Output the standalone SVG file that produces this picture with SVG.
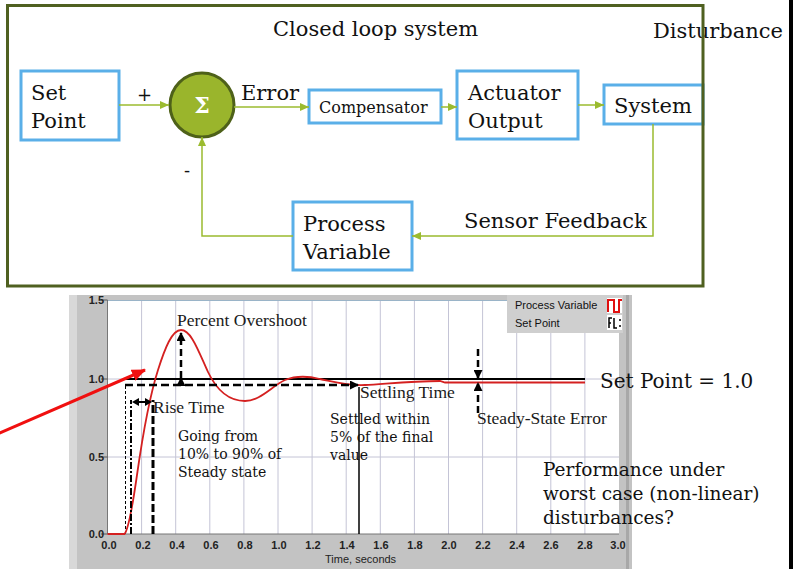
<svg xmlns="http://www.w3.org/2000/svg" width="796" height="569" viewBox="0 0 796 569">
<style>
.box{fill:#fff;stroke:#5aafe8;stroke-width:3}
.lbl{font-family:"DejaVu Serif",serif;font-size:21px;fill:#111}
.con{fill:none;stroke:#9bbb2f;stroke-width:1.5}
.ser{font-family:"Liberation Serif",serif;font-size:17.5px;fill:#1a1a1a}
.geo{font-family:"DejaVu Serif",serif;font-size:14px;fill:#111}
.tick{font-family:"Liberation Sans",sans-serif;font-size:11px;font-weight:bold;fill:#222;text-anchor:middle}
.ytick{font-family:"Liberation Sans",sans-serif;font-size:11px;font-weight:bold;fill:#222;text-anchor:end}
.grid{stroke:#c4c4d6;stroke-width:1}
.dash{fill:none;stroke:#000;stroke-width:2.5;stroke-dasharray:8,4}
.big{font-family:"DejaVu Serif",serif;font-size:18.5px;fill:#111}
</style>
<defs>
<marker id="ga" markerUnits="userSpaceOnUse" markerWidth="9" markerHeight="8" refX="9" refY="4" orient="auto"><path d="M0,0 L9,4 L0,8 z" fill="#9bbb2f"/></marker>
<marker id="ba" markerUnits="userSpaceOnUse" markerWidth="9" markerHeight="9" refX="8" refY="4.5" orient="auto"><path d="M0,0 L9,4.5 L0,9 z" fill="#000"/></marker>
<marker id="ra" markerUnits="userSpaceOnUse" markerWidth="14" markerHeight="12" refX="13" refY="6" orient="auto"><path d="M0,0 L14,6 L0,12 z" fill="#f01010"/></marker>
</defs>

<g id="loop-title"><text class="lbl" x="273" y="36">Closed loop system</text></g>
<g id="disturbance"><text class="lbl" x="653" y="38">Disturbance</text></g>

<g id="set-point"><rect class="box" x="21" y="71" width="98" height="69"/><text class="lbl" x="31" y="100">Set</text><text class="lbl" x="31" y="128">Point</text></g>
<g id="sum"><circle cx="202" cy="105" r="32" fill="#9ab52c" stroke="#4e6119" stroke-width="3"/><text x="202" y="113" text-anchor="middle" font-family="DejaVu Serif,serif" font-weight="bold" font-size="22" fill="#fff">Σ</text></g>
<g id="compensator"><rect class="box" x="309" y="90" width="132" height="33"/><text x="319" y="113" font-family="DejaVu Serif,serif" font-size="16" fill="#111">Compensator</text></g>
<g id="actuator"><rect class="box" x="457" y="71" width="121" height="68"/><text class="lbl" x="468" y="100">Actuator</text><text class="lbl" x="468" y="128">Output</text></g>
<g id="system"><rect class="box" x="604" y="85" width="99" height="39"/><text class="lbl" x="614" y="113">System</text></g>
<g id="process-variable"><rect class="box" x="293" y="202" width="119" height="68"/><text class="lbl" x="303" y="231">Process</text><text class="lbl" x="303" y="259">Variable</text></g>

<g id="connectors">
<path class="con" d="M119,105 H169" marker-end="url(#ga)"/>
<path class="con" d="M234,107 H309" marker-end="url(#ga)"/>
<path class="con" d="M441,107 H457" marker-end="url(#ga)"/>
<path class="con" d="M578,105 H604" marker-end="url(#ga)"/>
<path class="con" d="M653,124 V236 H412" marker-end="url(#ga)"/>
<path class="con" d="M293,236 H202 V137" marker-end="url(#ga)"/>
<text x="137" y="101" font-family="DejaVu Serif,serif" font-size="18" fill="#111">+</text>
<text x="184" y="177" font-family="DejaVu Serif,serif" font-size="18" fill="#111">-</text>
<text class="lbl" x="241" y="100">Error</text>
<text class="lbl" x="464" y="228">Sensor Feedback</text>
</g>

<rect x="7.5" y="5.5" width="695.5" height="280.5" fill="none" stroke="#4f6020" stroke-width="3"/>

<g id="chart">
<rect x="69" y="295" width="563" height="274" fill="#c3c3c3"/>
<rect x="69" y="295" width="8" height="274" fill="#d8d8d8"/>
<rect x="626" y="295" width="3" height="274" fill="#a8a8a8"/>
<rect x="107.5" y="300" width="511.5" height="234" fill="#fff"/>
<g class="grid">
<line x1="141.6" y1="300" x2="141.6" y2="534"/><line x1="175.7" y1="300" x2="175.7" y2="534"/><line x1="209.8" y1="300" x2="209.8" y2="534"/><line x1="243.9" y1="300" x2="243.9" y2="534"/><line x1="278" y1="300" x2="278" y2="534"/><line x1="312.1" y1="300" x2="312.1" y2="534"/><line x1="346.2" y1="300" x2="346.2" y2="534"/><line x1="380.3" y1="300" x2="380.3" y2="534"/><line x1="414.4" y1="300" x2="414.4" y2="534"/><line x1="448.5" y1="300" x2="448.5" y2="534"/><line x1="482.6" y1="300" x2="482.6" y2="534"/><line x1="516.7" y1="300" x2="516.7" y2="534"/><line x1="550.8" y1="300" x2="550.8" y2="534"/><line x1="584.9" y1="300" x2="584.9" y2="534"/>
<line x1="107.5" y1="457" x2="619" y2="457"/><line x1="107.5" y1="379" x2="619" y2="379"/>
</g>
<line x1="107.5" y1="300.5" x2="619" y2="300.5" stroke="#9ab4c8" stroke-width="1"/>
<path d="M107.5,300 V534 H619" fill="none" stroke="#777" stroke-width="1"/>
<path d="M101,300 H107.5 M101,379 H107.5 M101,457 H107.5 M101,534 H107.5" stroke="#555" stroke-width="1"/>
<text class="ytick" x="104" y="304">1.5</text><text class="ytick" x="104" y="383">1.0</text><text class="ytick" x="104" y="461">0.5</text><text class="ytick" x="104" y="538">0.0</text>
<g>
<text class="tick" x="109" y="549">0.0</text><text class="tick" x="143" y="549">0.2</text><text class="tick" x="177" y="549">0.4</text><text class="tick" x="211" y="549">0.6</text><text class="tick" x="245" y="549">0.8</text><text class="tick" x="279" y="549">1.0</text><text class="tick" x="313" y="549">1.2</text><text class="tick" x="347" y="549">1.4</text><text class="tick" x="381" y="549">1.6</text><text class="tick" x="415" y="549">1.8</text><text class="tick" x="449" y="549">2.0</text><text class="tick" x="483" y="549">2.2</text><text class="tick" x="517" y="549">2.4</text><text class="tick" x="551" y="549">2.6</text><text class="tick" x="585" y="549">2.8</text><text class="tick" x="618" y="549">3.0</text>
</g>
<text x="325" y="563" font-family="Liberation Sans,sans-serif" font-size="11" fill="#222">Time, seconds</text>

<rect x="507" y="295" width="116" height="38" fill="#cfcfcf"/>
<text x="515" y="309" font-family="Liberation Sans,sans-serif" font-size="11" fill="#111">Process Variable</text>
<text x="515" y="327" font-family="Liberation Sans,sans-serif" font-size="11" fill="#111">Set Point</text>
<rect x="607" y="298" width="15" height="15" fill="#fff"/>
<path d="M608,312 V300 H614 V312 H619 V300 H622" fill="none" stroke="#e01010" stroke-width="2"/>
<rect x="607" y="315" width="15" height="15" fill="#fff"/>
<path d="M609,328 V318 H612 M609,323 H611 M614,318 V328 H617 M620,319 V321 M620,325 V327" fill="none" stroke="#000" stroke-width="1.5"/>

<path d="M125.5,534 V386" stroke="#000" stroke-width="1" stroke-dasharray="3,2" fill="none"/>
<line x1="125" y1="379" x2="585" y2="379" stroke="#000" stroke-width="2"/>
<path d="M107.5,534 H124.5 C128,530 132,510 137,475 C142,440 150,395 158,370 C165,348 172,330 181,330 C191,330 198,350 208,372 C218,393 230,401 245,401 C260,401 272,386 285,380 C295,376 308,376 320,379 C335,382 350,386 365,385 C385,384 410,381 440,381 L445,382.5 L585,382.5" fill="none" stroke="#d42020" stroke-width="1.8"/>

<path class="dash" d="M125,385 H358" marker-end="url(#ba)"/>
<path class="dash" d="M181,378 V333" marker-end="url(#ba)" marker-start="url(#ba)" style="stroke-dasharray:7,4"/>
<path d="M131,534 V400" stroke="#000" stroke-width="2" stroke-dasharray="7,2,2,2" fill="none"/>
<path d="M153,534 V400" stroke="#000" stroke-width="3" stroke-dasharray="8,3" fill="none"/>
<path d="M135,402 H149" stroke="#000" stroke-width="2" fill="none"/>
<path d="M132,402 L139,398 L139,406 z M152,402 L145,398 L145,406 z" fill="#000"/>
<line x1="359" y1="387" x2="359" y2="534" stroke="#000" stroke-width="1.5"/>
<path class="dash" d="M478,349 V378" marker-end="url(#ba)" style="stroke-dasharray:7,4"/>
<path class="dash" d="M478,413 V383" marker-end="url(#ba)" style="stroke-dasharray:7,4"/>

<text class="ser" x="177" y="326">Percent Overshoot</text>
<text class="ser" x="153" y="413">Rise Time</text>
<text class="ser" x="360" y="398">Settling Time</text>
<text class="ser" x="477" y="424">Steady-State Error</text>
<text class="geo" x="178" y="441">Going from</text>
<text class="geo" x="178" y="459">10% to 90% of</text>
<text class="geo" x="178" y="477">Steady state</text>
<text class="geo" x="330" y="424">Settled within</text>
<text class="geo" x="330" y="442">5% of the final</text>
<text class="geo" x="330" y="460">value</text>
</g>

<g id="annotations">
<text x="600" y="388" font-family="DejaVu Serif,serif" font-size="20" fill="#111">Set Point = 1.0</text>
<text class="big" x="543" y="476">Performance under</text>
<text class="big" x="543" y="500">worst case (non-linear)</text>
<text class="big" x="543" y="524">disturbances?</text>
<path d="M-5,435 L145,370" stroke="#f01010" stroke-width="3" fill="none" marker-end="url(#ra)"/>
</g>
<rect x="789" y="0" width="4" height="569" fill="#000"/>
</svg>
